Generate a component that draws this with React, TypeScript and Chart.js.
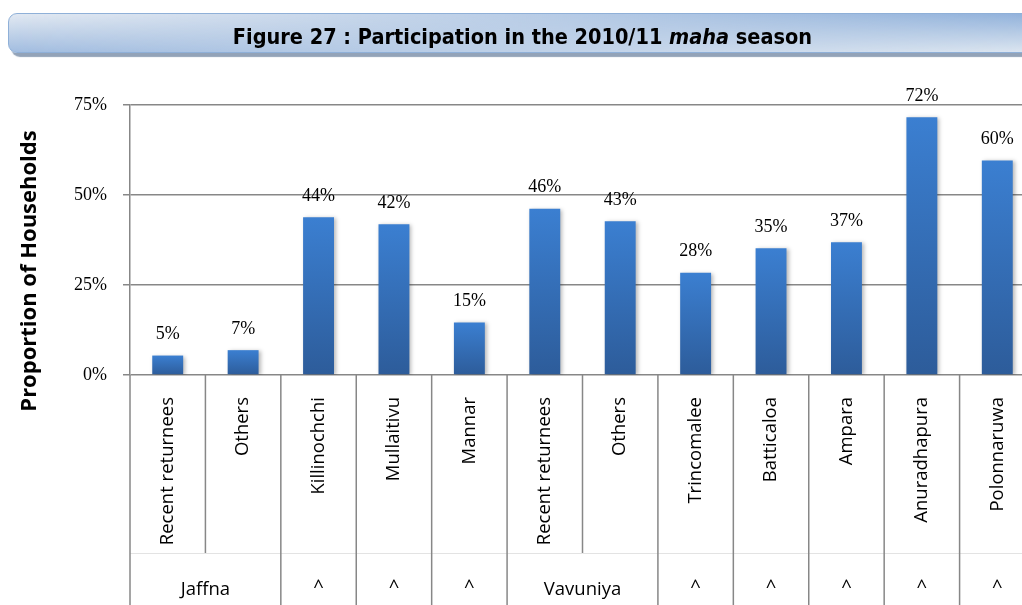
import React, { useEffect, useRef } from 'react';
import { Chart, registerables } from 'chart.js';

Chart.register(...registerables);

const categories = [
  'Recent returnees', 'Others', 'Killinochchi', 'Mullaitivu', 'Mannar',
  'Recent returnees', 'Others', 'Trincomalee', 'Batticaloa', 'Ampara',
  'Anuradhapura', 'Polonnaruwa',
];
const groupLabels = ['Jaffna', '^', '^', '^', 'Vavuniya', '^', '^', '^', '^', '^'];
const groupSizes = [2, 1, 1, 1, 2, 1, 1, 1, 1, 1];
const participation = [5.4, 6.9, 43.8, 41.9, 14.6, 46.2, 42.7, 28.4, 35.2, 36.9, 71.6, 59.6];
const yTickValues = [0, 25, 50, 75];

const TITLE_MAIN = 'Figure 27 : Participation in the 2010/11 ';
const TITLE_ITALIC = 'maha';
const TITLE_END = ' season';
const Y_TITLE = 'Proportion of Households';

const CANVAS_W = 1040;
const CANVAS_H = 605;
const GRID = '#878787';
const NUM_FONT = "'Liberation Serif', 'DejaVu Serif', serif";
const CAT_FONT = "'Open Sans', 'DejaVu Sans', sans-serif";

const decorPlugin = {
  id: 'decor',
  beforeDatasetsDraw(chart: any) {
    const ctx = chart.ctx;
    ctx.save();
    ctx.shadowColor = 'rgba(0,0,0,0.28)';
    ctx.shadowBlur = 4;
    ctx.shadowOffsetX = 2;
    ctx.shadowOffsetY = 1;
  },
  afterDatasetsDraw(chart: any) {
    chart.ctx.restore();
  },
  afterDraw(chart: any) {
    const ctx = chart.ctx;
    const { chartArea } = chart;
    const xs = chart.scales.x;
    const ys = chart.scales.y;
    const n = categories.length;
    const half = (xs.getPixelForValue(1) - xs.getPixelForValue(0)) / 2;
    const midLineY = 553;
    const bottom = CANVAS_H;

    ctx.save();
    // faint horizontal line between levels
    ctx.strokeStyle = '#e3e3e3';
    ctx.lineWidth = 1;
    ctx.beginPath();
    ctx.moveTo(chartArea.left, midLineY + 0.5);
    ctx.lineTo(chartArea.right, midLineY + 0.5);
    ctx.stroke();

    // separators
    const inner = new Set<number>();
    let acc = 0;
    groupSizes.forEach((s) => {
      for (let k = 1; k < s; k++) inner.add(acc + k);
      acc += s;
    });
    ctx.strokeStyle = GRID;
    ctx.lineWidth = 1.5;
    for (let i = 0; i <= n; i++) {
      const x = i < n ? xs.getPixelForValue(i) - half : xs.getPixelForValue(n - 1) + half;
      ctx.beginPath();
      ctx.moveTo(x, chartArea.bottom);
      ctx.lineTo(x, inner.has(i) ? midLineY : bottom);
      ctx.stroke();
    }

    // rotated category labels
    ctx.fillStyle = '#000';
    ctx.font = `18.5px ${CAT_FONT}`;
    categories.forEach((c, i) => {
      const x = xs.getPixelForValue(i);
      ctx.save();
      ctx.translate(x, chartArea.bottom + 22);
      ctx.rotate(-Math.PI / 2);
      ctx.textAlign = 'right';
      ctx.textBaseline = 'middle';
      ctx.fillText(c, 0, 0);
      ctx.restore();
    });

    // group labels
    acc = 0;
    ctx.textAlign = 'center';
    ctx.textBaseline = 'middle';
    groupLabels.forEach((g, gi) => {
      const s = groupSizes[gi];
      const x0 = xs.getPixelForValue(acc) - half;
      const x1 = xs.getPixelForValue(acc + s - 1) + half;
      ctx.fillText(g, (x0 + x1) / 2, g === '^' ? 588 : 590);
      acc += s;
    });

    // data labels
    ctx.font = `18px ${NUM_FONT}`;
    ctx.textBaseline = 'middle';
    participation.forEach((v, i) => {
      const x = xs.getPixelForValue(i);
      const y = ys.getPixelForValue(v);
      ctx.fillText(`${Math.round(v)}%`, x, y - 21);
    });

    // y title
    ctx.font = `bold 22px ${CAT_FONT}`;
    ctx.translate(30, 271);
    ctx.rotate(-Math.PI / 2);
    ctx.textAlign = 'center';
    ctx.textBaseline = 'middle';
    ctx.fillText(Y_TITLE, 0, 0);
    ctx.restore();
  },
};

export default function App() {
  const ref = useRef<HTMLCanvasElement | null>(null);

  useEffect(() => {
    if (!ref.current) return;
    const chart = new Chart(ref.current, {
      type: 'bar',
      data: {
        labels: categories,
        datasets: [
          {
            data: participation,
            barPercentage: 0.41,
            categoryPercentage: 1,
            borderWidth: 0,
            backgroundColor: (c: any) => {
              const ch = c.chart;
              if (!ch.chartArea || c.type !== 'data') return '#3573c2';
              const v = participation[c.dataIndex];
              const top = ch.scales.y.getPixelForValue(v);
              const base = ch.scales.y.getPixelForValue(0);
              const g = ch.ctx.createLinearGradient(0, top, 0, base);
              g.addColorStop(0, '#3b7fd1');
              g.addColorStop(1, '#2d5c9a');
              return g;
            },
          },
        ],
      },
      options: {
        responsive: false,
        animation: false,
        devicePixelRatio: 1,
        layout: { padding: { top: 105, bottom: CANVAS_H - 375, left: 0, right: CANVAS_W - 1035 } },
        plugins: { legend: { display: false }, tooltip: { enabled: false }, title: { display: false } },
        scales: {
          x: { display: false },
          y: {
            min: 0,
            max: 75,
            afterFit: (s: any) => { s.width = 130; },
            afterBuildTicks: (s: any) => { s.ticks = yTickValues.map((v) => ({ value: v })); },
            ticks: {
              padding: 16,
              color: '#000',
              font: { family: NUM_FONT, size: 18 },
              callback: (v: any) => `${v}%`,
            },
            grid: { color: GRID, lineWidth: 1.5, tickLength: 7 },
            border: { display: true, color: GRID, width: 1.5 },
          },
        },
      },
      plugins: [decorPlugin],
    });
    return () => chart.destroy();
  }, []);

  return (
    <div style={{ position: 'fixed', left: 0, top: 0, width: 1022, height: 605, overflow: 'hidden', background: '#fff' }}>
      <canvas ref={ref} width={CANVAS_W} height={CANVAS_H} style={{ position: 'absolute', left: 0, top: 0 }} />
      <div
        style={{
          position: 'absolute', left: 8, top: 13, width: 1050, height: 38,
          borderRadius: '9px 0 0 9px', border: '1px solid #8fb0d8',
          boxShadow: '3px 4px 1px #93a3b8', overflow: 'hidden',
          background: 'linear-gradient(to bottom, #e2e9f2, #a2bde0)',
        }}
      >
        <div
          style={{
            position: 'absolute', inset: 0,
            background: 'linear-gradient(to bottom, #8fb0da, #dde6f0)',
            WebkitMaskImage: 'linear-gradient(to right, transparent, black)',
            maskImage: 'linear-gradient(to right, transparent, black)',
          } as any}
        />
      </div>
      <div
        style={{
          position: 'absolute', left: 0, width: 1045, top: 22, height: 30, lineHeight: '30px',
          textAlign: 'center', fontFamily: "'DejaVu Sans Condensed', 'Liberation Sans Narrow', sans-serif",
          fontWeight: 'bold', fontSize: 21.5, color: '#000', whiteSpace: 'nowrap',
        }}
      >
        {TITLE_MAIN}<i>{TITLE_ITALIC}</i>{TITLE_END}
      </div>
    </div>
  );
}
